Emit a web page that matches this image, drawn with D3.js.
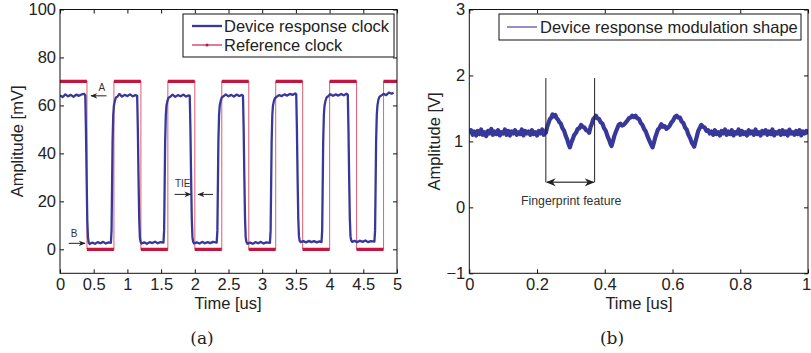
<!DOCTYPE html>
<html>
<head>
<meta charset="utf-8">
<script src="https://cdn.jsdelivr.net/npm/d3@7"></script>
<style>
  body { margin: 0; background: #fff; }
  text { font-family: "Liberation Sans", Arial, sans-serif; }
</style>
</head>
<body>
<div id="chart"></div>
<script>
// ---- panel (a): clock signals ----
const refTimes = [0, 0.4, 0.8, 1.2, 1.6, 2.0, 2.4, 2.8, 3.2, 3.6, 4.0, 4.4, 4.8, 5.0];
const refLevels = [70, 0, 70, 0, 70, 0, 70, 0, 70, 0, 70, 0, 70, 70];

// device response clock [time us, amplitude mV]
const deviceClock = [
  [0,64.2],[0.04,63.5],[0.08,64.6],[0.12,63.8],[0.16,64.4],[0.2,63.6],[0.24,64.5],[0.28,64.0],[0.32,64.6],[0.36,64.8],[0.375,64.2],
  [0.385,50],[0.395,30],[0.405,12],[0.415,5],[0.425,3.0],[0.44,2.2],
  [0.48,2.8],[0.52,2.3],[0.56,3.0],[0.6,2.5],[0.64,3.1],[0.68,2.4],[0.72,2.9],[0.755,2.7],
  [0.765,8],[0.772,25],[0.78,45],[0.79,56],[0.80,60],[0.815,62],[0.83,63.3],[0.85,63.6],
  [0.88,64.8],[0.92,63.7],[0.96,64.4],[1.0,63.9],[1.04,64.6],[1.08,63.8],[1.12,64.3],[1.145,64.0],
  [1.155,50],[1.165,30],[1.175,13],[1.185,5],[1.195,3.2],[1.21,2.4],
  [1.25,2.9],[1.29,2.3],[1.33,3.0],[1.37,2.6],[1.41,3.2],[1.45,2.5],[1.49,3.0],[1.535,2.8],
  [1.545,8],[1.552,25],[1.56,45],[1.57,56],[1.58,60],[1.595,62],[1.61,63.2],[1.63,63.5],
  [1.67,64.5],[1.71,63.6],[1.75,64.3],[1.79,63.8],[1.83,64.5],[1.87,63.7],[1.91,64.2],[1.925,64.0],
  [1.935,50],[1.945,30],[1.955,13],[1.965,5],[1.975,3.2],[1.99,2.4],
  [2.03,2.9],[2.07,2.4],[2.11,3.1],[2.15,2.5],[2.19,3.0],[2.23,2.6],[2.27,3.1],[2.325,2.8],
  [2.335,8],[2.342,25],[2.35,45],[2.36,56],[2.37,60],[2.385,62],[2.40,63.3],[2.42,63.7],
  [2.46,64.6],[2.50,63.8],[2.54,64.4],[2.58,63.7],[2.62,64.5],[2.66,63.9],[2.70,64.4],[2.715,64.1],
  [2.725,50],[2.735,30],[2.745,13],[2.755,5],[2.765,3.2],[2.78,2.3],
  [2.82,2.8],[2.86,2.3],[2.90,3.0],[2.94,2.5],[2.98,3.1],[3.02,2.4],[3.06,2.9],[3.115,2.7],
  [3.125,8],[3.132,25],[3.14,45],[3.15,56],[3.16,60],[3.175,62],[3.19,63],[3.21,63.5],
  [3.25,64.3],[3.29,63.9],[3.33,64.6],[3.37,64.1],[3.41,64.8],[3.45,64.4],[3.49,65.0],[3.505,64.6],
  [3.515,50],[3.525,30],[3.535,13],[3.545,5.5],[3.555,3.6],[3.57,3.0],
  [3.61,3.4],[3.65,2.9],[3.69,3.5],[3.73,3.0],[3.77,3.4],[3.81,2.9],[3.85,3.3],[3.88,3.0],
  [3.89,8],[3.897,25],[3.905,45],[3.915,56],[3.925,60],[3.94,62],[3.955,63.3],[3.975,63.7],
  [4.01,64.7],[4.05,64.0],[4.09,64.6],[4.13,64.1],[4.17,64.8],[4.21,64.2],[4.25,64.9],[4.27,64.5],
  [4.28,50],[4.29,30],[4.30,13],[4.31,5.5],[4.32,3.8],[4.335,3.1],
  [4.37,3.5],[4.41,3.0],[4.45,3.6],[4.49,3.1],[4.53,3.7],[4.57,3.0],[4.61,3.4],[4.665,3.2],
  [4.675,8],[4.682,25],[4.69,45],[4.70,56],[4.71,60],[4.725,62.5],[4.74,63.6],[4.76,64.0],
  [4.80,64.8],[4.84,64.3],[4.88,65.4],[4.92,64.9],[4.95,65.3]
];

const clockXTicks = [0, 0.5, 1, 1.5, 2, 2.5, 3, 3.5, 4, 4.5, 5];
const clockYTicks = [0, 20, 40, 60, 80, 100];
const clockLegend = ["Device response clock", "Reference clock"];

// ---- panel (b): modulation shape ----
// flat noisy stretch before the feature, sampled every 5 ns
const baseStartVals = [
  1.12,1.17,1.10,1.15,1.09,1.16,1.11,1.18,1.10,1.14,1.08,1.16,1.12,1.19,1.10,1.15,1.11,1.17,1.09,1.14,
  1.12,1.18,1.10,1.16,1.09,1.15,1.12,1.17,1.10,1.14,1.11,1.18,1.09,1.16,1.12,1.15,1.10,1.17,1.11,1.14,
  1.09,1.16,1.12,1.18,1.10,1.15
];
const featureShape = [
  [0.226,1.13],[0.230,1.22],[0.234,1.28],[0.238,1.34],[0.242,1.36],[0.246,1.41],[0.250,1.38],[0.254,1.40],[0.258,1.35],[0.262,1.33],
  [0.266,1.29],[0.270,1.27],[0.275,1.20],[0.280,1.16],[0.285,1.08],[0.289,1.03],[0.293,0.96],[0.297,0.91],[0.301,0.98],[0.305,1.03],
  [0.31,1.10],[0.315,1.13],[0.32,1.19],[0.325,1.20],[0.33,1.25],[0.335,1.22],[0.34,1.21],[0.345,1.17],[0.350,1.16],[0.354,1.13],
  [0.358,1.22],[0.362,1.27],[0.366,1.34],[0.370,1.36],[0.374,1.39],[0.378,1.35],[0.383,1.34],[0.388,1.29],[0.393,1.27],[0.398,1.20],
  [0.403,1.16],[0.408,1.08],[0.413,1.02],[0.417,0.96],[0.420,0.93],[0.424,1.00],[0.428,1.08],[0.433,1.15],[0.437,1.20],[0.441,1.25],
  [0.446,1.27],[0.451,1.24],[0.456,1.25],[0.461,1.28],[0.466,1.31],[0.471,1.35],[0.476,1.36],[0.481,1.39],[0.486,1.37],[0.491,1.39],
  [0.496,1.35],[0.501,1.34],[0.506,1.28],[0.511,1.25],[0.516,1.19],[0.521,1.15],[0.526,1.08],[0.531,1.02],[0.536,0.96],[0.541,0.91],
  [0.545,0.98],[0.549,1.06],[0.553,1.12],[0.557,1.18],[0.562,1.21],[0.567,1.26],[0.572,1.22],[0.577,1.23],[0.582,1.19],[0.587,1.21],
  [0.592,1.24],[0.597,1.29],[0.602,1.32],[0.607,1.37],[0.612,1.39],[0.617,1.36],[0.622,1.36],[0.627,1.30],[0.632,1.28],[0.637,1.21],
  [0.642,1.18],[0.647,1.10],[0.652,1.05],[0.657,0.98],[0.661,0.95],[0.664,0.92],[0.668,1.00],[0.672,1.08],[0.676,1.16],[0.680,1.20],
  [0.685,1.25],[0.690,1.22],[0.695,1.21],[0.700,1.16],[0.705,1.17],[0.710,1.12]
];
// flat noisy stretch after the feature, sampled every 5 ns
const baseEndVals = [
  1.15,1.10,1.17,1.11,1.14,1.09,1.16,1.12,1.18,1.10,1.15,1.11,1.17,1.09,1.14,1.12,1.18,1.10,1.16,1.11,
  1.14,1.09,1.17,1.12,1.15,1.10,1.18,1.11,1.14,1.09,1.16,1.12,1.17,1.10,1.15,1.11,1.18,1.09,1.14,1.12,
  1.16,1.10,1.17,1.11,1.15,1.09,1.18,1.12,1.14,1.10,1.16,1.11,1.17,1.09,1.15,1.12,1.16,1.11
];

const modXTicks = [0, 0.2, 0.4, 0.6, 0.8, 1];
const modYTicks = [-1, 0, 1, 2, 3];
const modLegend = ["Device response modulation shape"];
const featureSpan = [0.226, 0.37];

const W = 811, H = 353;
const blue = "#38389a", red = "#c4153f";
const FS = 16.5;

const svg = d3.select("#chart").append("svg")
    .attr("width", W).attr("height", H);
svg.append("rect").attr("width", W).attr("height", H).attr("fill", "#fff");

const defs = svg.append("defs");
defs.append("marker").attr("id", "ah")
    .attr("viewBox", "0 0 10 10").attr("refX", 9).attr("refY", 5)
    .attr("markerWidth", 7).attr("markerHeight", 7).attr("orient", "auto-start-reverse")
    .append("path").attr("d", "M0,1 L10,5 L0,9 L3,5 Z").attr("fill", "#222");

// boxed axes with inward ticks on all four sides
function boxAxes(g, x, y, xt, yt, yfmt) {
    const [x0, x1] = x.range(), [y0, y1] = y.range();
    g.append("g").attr("transform", `translate(0,${y0})`)
        .call(d3.axisBottom(x).tickValues(xt).tickSizeInner(-4).tickSizeOuter(0).tickPadding(5).tickFormat(d3.format("")));
    g.append("g").attr("transform", `translate(0,${y1})`)
        .call(d3.axisTop(x).tickValues(xt).tickSizeInner(-4).tickSizeOuter(0).tickFormat(""));
    g.append("g").attr("transform", `translate(${x0},0)`)
        .call(d3.axisLeft(y).tickValues(yt).tickSizeInner(-4).tickSizeOuter(0).tickPadding(4).tickFormat(yfmt));
    g.append("g").attr("transform", `translate(${x1},0)`)
        .call(d3.axisRight(y).tickValues(yt).tickSizeInner(-4).tickSizeOuter(0).tickFormat(""));
    g.selectAll(".domain").remove();
    g.selectAll(".tick line").attr("stroke", "#111");
    g.selectAll(".tick text").attr("font-size", FS).attr("fill", "#222")
        .attr("font-family", "'Liberation Sans', Arial, sans-serif");
    g.append("rect").attr("x", x0).attr("y", y1).attr("width", x1 - x0).attr("height", y0 - y1)
        .attr("fill", "none").attr("stroke", "#111").attr("stroke-width", 1);
}
function arrow(g, x1, y1, x2, y2) {
    g.append("line").attr("x1", x1).attr("y1", y1).attr("x2", x2).attr("y2", y2)
        .attr("stroke", "#222").attr("stroke-width", 1).attr("marker-end", "url(#ah)");
}
function note(g, x, y, s, size) {
    g.append("text").attr("x", x).attr("y", y).attr("text-anchor", "middle")
        .attr("font-size", size).attr("fill", "#333").text(s);
}

// ===== panel (a) =====
const xa = d3.scaleLinear().domain([0, 5]).range([60, 397]);
const ya = d3.scaleLinear().domain([-10, 100]).range([273.3, 9.5]);
const ga = svg.append("g");
defs.append("clipPath").attr("id", "clipA").append("rect")
    .attr("x", 60).attr("y", 9.5).attr("width", 337).attr("height", 263.8);

const refPts = refTimes.map((t, i) => [t, refLevels[i]]);
const plotA = ga.append("g").attr("clip-path", "url(#clipA)");
// reference clock: thin edges, dense markers on the flat parts
plotA.append("path").datum(refPts)
    .attr("fill", "none").attr("stroke", "#e06a7c").attr("stroke-width", 1.1)
    .attr("d", d3.line().curve(d3.curveStepAfter).x(d => xa(d[0])).y(d => ya(d[1])));
plotA.selectAll(".flat").data(refPts.slice(0, -1)).join("line")
    .attr("x1", d => xa(d[0])).attr("x2", (d, i) => xa(refPts[i + 1][0]))
    .attr("y1", d => ya(d[1])).attr("y2", d => ya(d[1]))
    .attr("stroke", red).attr("stroke-width", 3.2);
plotA.append("path").datum(deviceClock)
    .attr("fill", "none").attr("stroke", blue).attr("stroke-width", 2.3)
    .attr("stroke-linejoin", "round")
    .attr("d", d3.line().x(d => xa(d[0])).y(d => ya(d[1])));

boxAxes(ga, xa, ya, clockXTicks, clockYTicks, d3.format(""));

arrow(ga, xa(0.69), ya(64), xa(0.46), ya(64));
note(ga, xa(0.62), ya(66), "A", 10);
arrow(ga, xa(0.13), ya(2.5), xa(0.37), ya(2.5));
note(ga, xa(0.21), ya(5), "B", 10);
arrow(ga, xa(1.70), ya(22.9), xa(1.94), ya(22.9));
arrow(ga, xa(2.27), ya(22.9), xa(2.05), ya(22.9));
note(ga, xa(1.82), ya(25.8), "TIE", 10);

// legend (a)
const la = ga.append("g").attr("transform", "translate(183,14)");
la.append("rect").attr("width", 211).attr("height", 43).attr("fill", "#fff").attr("stroke", "#111");
la.append("line").attr("x1", 9).attr("x2", 39).attr("y1", 12).attr("y2", 12).attr("stroke", blue).attr("stroke-width", 2.3);
la.append("line").attr("x1", 9).attr("x2", 39).attr("y1", 31).attr("y2", 31).attr("stroke", red).attr("stroke-width", 1.1);
la.append("circle").attr("cx", 24).attr("cy", 31).attr("r", 1.5).attr("fill", red);
la.selectAll(".lt").data(clockLegend).join("text")
    .attr("x", 41).attr("y", (d, i) => 18 + i * 19)
    .attr("font-size", FS).attr("fill", "#222").text(d => d);

ga.append("text").attr("transform", `translate(23,${ya(45)}) rotate(-90)`)
    .attr("text-anchor", "middle").attr("font-size", FS).attr("fill", "#222").text("Amplitude [mV]");
ga.append("text").attr("x", 228).attr("y", 309).attr("text-anchor", "middle")
    .attr("font-size", FS).attr("fill", "#222").text("Time [us]");

// ===== panel (b) =====
const xb = d3.scaleLinear().domain([0, 1]).range([469.3, 808]);
const yb = d3.scaleLinear().domain([-1, 3]).range([273.3, 9.5]);
const gb = svg.append("g");
defs.append("clipPath").attr("id", "clipB").append("rect")
    .attr("x", 469.3).attr("y", 9.5).attr("width", 338.7).attr("height", 263.8);

const modPts = baseStartVals.map((v, i) => [i * 0.005, v])
    .concat(featureShape)
    .concat(baseEndVals.map((v, i) => [0.715 + i * 0.005, v]));
gb.append("g").attr("clip-path", "url(#clipB)").append("path").datum(modPts)
    .attr("fill", "none").attr("stroke", blue).attr("stroke-width", 4.2)
    .attr("stroke-linejoin", "round")
    .attr("d", d3.line().x(d => xb(d[0])).y(d => yb(d[1])));

boxAxes(gb, xb, yb, modXTicks, modYTicks, d => d < 0 ? "\u2212" + Math.abs(d) : d);
// keep the last x label inside the window
gb.selectAll(".tick text").filter(d => d === 1).attr("dx", -2);

// fingerprint feature marker
featureSpan.forEach(t => {
    gb.append("line").attr("x1", xb(t)).attr("x2", xb(t)).attr("y1", yb(1.96)).attr("y2", yb(0.38))
        .attr("stroke", "#222").attr("stroke-width", 1);
});
gb.append("line").attr("x1", xb(featureSpan[0]) + 1).attr("x2", xb(featureSpan[1]) - 1)
    .attr("y1", yb(0.38)).attr("y2", yb(0.38))
    .attr("stroke", "#555").attr("stroke-width", 1.4)
    .attr("marker-start", "url(#ah)").attr("marker-end", "url(#ah)");
note(gb, (xb(featureSpan[0]) + xb(featureSpan[1])) / 2 + 1, yb(0.03), "Fingerprint feature", 12.3);

// legend (b)
const lb = gb.append("g").attr("transform", "translate(499,14)");
lb.append("rect").attr("width", 302).attr("height", 26).attr("fill", "#fff").attr("stroke", "#111");
lb.append("line").attr("x1", 8).attr("x2", 38).attr("y1", 13).attr("y2", 13).attr("stroke", blue).attr("stroke-width", 1.1);
lb.selectAll(".lt").data(modLegend).join("text")
    .attr("x", 41).attr("y", 19).attr("font-size", FS).attr("fill", "#222").text(d => d);

gb.append("text").attr("transform", `translate(440,${yb(1)}) rotate(-90)`)
    .attr("text-anchor", "middle").attr("font-size", FS).attr("fill", "#222").text("Amplitude [V]");
gb.append("text").attr("x", 639).attr("y", 309).attr("text-anchor", "middle")
    .attr("font-size", FS).attr("fill", "#222").text("Time [us]");

// captions
svg.selectAll(".cap").data(["(a)", "(b)"]).join("text")
    .attr("x", (d, i) => i ? 612 : 202).attr("y", 344)
    .attr("text-anchor", "middle").attr("font-size", 17).attr("fill", "#222")
    .style("font-family", "'DejaVu Serif', 'Liberation Serif', serif").text(d => d);
</script>
</body>
</html>
